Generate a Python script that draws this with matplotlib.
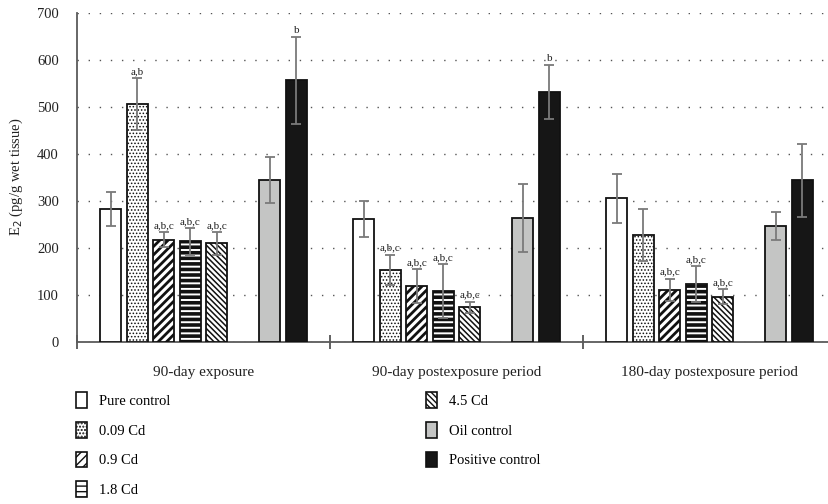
import matplotlib
matplotlib.use("Agg")
import numpy as np
import matplotlib.pyplot as plt
from matplotlib.patches import Patch

plt.rcParams["font.family"] = ["Liberation Serif", "DejaVu Serif"]

# Zeiträume (Gruppen auf der x-Achse)
perioden = ["90-day exposure", "90-day postexposure period", "180-day postexposure period"]

# Gruppen der Tiere
gruppen = ["Pure control", "0.09 Cd", "0.9 Cd", "1.8 Cd", "4.5 Cd", "Oil control", "Positive control"]

# Mittelwerte E2 (pg/g wet tissue) je Gruppe, Reihenfolge wie perioden
pure_control = [283, 262, 306]
cd_009 = [507, 154, 228]
cd_09 = [218, 120, 111]
cd_18 = [214, 109, 123]
cd_45 = [210, 74, 96]
oil_control = [345, 264, 246]
positive_control = [557, 532, 344]

# Standardabweichungen
pure_control_sd = [37, 39, 52]
cd_009_sd = [55, 32, 56]
cd_09_sd = [16, 36, 24]
cd_18_sd = [29, 57, 38]
cd_45_sd = [24, 12, 16]
oil_control_sd = [49, 73, 30]
positive_control_sd = [93, 57, 78]

# Signifikanz-Buchstaben
pure_control_sig = ["", "", ""]
cd_009_sig = ["a,b", "a,b,c", ""]
cd_09_sig = ["a,b,c", "a,b,c", "a,b,c"]
cd_18_sig = ["a,b,c", "a,b,c", "a,b,c"]
cd_45_sig = ["a,b,c", "a,b,c", "a,b,c"]
oil_control_sig = ["", "", ""]
positive_control_sig = ["b", "b", ""]

werte = [pure_control, cd_009, cd_09, cd_18, cd_45, oil_control, positive_control]
sds = [pure_control_sd, cd_009_sd, cd_09_sd, cd_18_sd, cd_45_sd, oil_control_sd, positive_control_sd]
sigs = [pure_control_sig, cd_009_sig, cd_09_sig, cd_18_sig, cd_45_sig, oil_control_sig, positive_control_sig]

# Darstellung: Farbe, Schraffur, Schraffurstärke
stile = [
    ("white", "", 1.0),
    ("white", ".....", 0.7),
    ("white", "////", 2.0),
    ("white", "---", 2.6),
    ("white", "\\\\\\\\\\\\", 1.1),
    ("#c4c5c4", "", 1.0),
    ("#161616", "", 1.0),
]

# Slot-Position innerhalb der Gruppe (ein Slot frei zwischen 4.5 Cd und Oil control)
slot = 0.105
offsets = np.array([-3.5, -2.5, -1.5, -0.5, 0.5, 2.5, 3.5]) * slot
breite = 0.083

fig = plt.figure(figsize=(8.29, 5.04), dpi=100)
ax = fig.add_axes([77 / 829, 1 - 342 / 504, 759 / 829, 329 / 504])

x = np.arange(len(perioden))
for i, name in enumerate(gruppen):
    farbe, hatch, hlw = stile[i]
    plt.rcParams["hatch.linewidth"] = hlw
    bars = ax.bar(x + offsets[i], werte[i], breite, color=farbe, edgecolor="#111111",
                  linewidth=1.3, hatch=hatch, zorder=3)
    for b in bars:
        try:
            b.set_hatch_linewidth(hlw)
        except AttributeError:
            pass
    ax.errorbar(x + offsets[i], werte[i], yerr=sds[i], fmt="none", ecolor="#7a7a7a",
                elinewidth=1.3, capsize=3.5, capthick=1.3, zorder=4)
    for j in range(len(perioden)):
        if sigs[i][j]:
            ax.text(x[j] + offsets[i], werte[i][j] + sds[i][j] + 4, sigs[i][j],
                    ha="center", va="bottom", fontsize=8, color="#222222", zorder=5)

ax.set_xlim(-0.5, 2.5)
ax.set_ylim(0, 700)
ax.set_yticks(range(0, 701, 100))
ax.yaxis.grid(True, linestyle=(0, (1, 7)), linewidth=1.0, color="#555555", zorder=0)
ax.tick_params(axis="y", length=0, pad=13, labelsize=10.5, labelcolor="#222222")

ax.set_xticks(x)
ax.set_xticklabels(perioden)
ax.set_xticks([-0.5, 0.5, 1.5, 2.5], minor=True)
ax.tick_params(axis="x", which="major", length=0, pad=17, labelsize=11, labelcolor="#222222")
ax.tick_params(axis="x", which="minor", length=10, direction="inout", width=1.3, color="#555555")

for s in ["top", "right"]:
    ax.spines[s].set_visible(False)
for s in ["left", "bottom"]:
    ax.spines[s].set_color("#5a5a5a")
    ax.spines[s].set_linewidth(1.3)

fig.text(16 / 829, 1 - 177 / 504, "E$_2$ (pg/g wet tissue)", rotation=90,
         ha="center", va="center", fontsize=10.5, color="#222222")

# Legende in zwei Spalten
handles = []
for i, name in enumerate(gruppen):
    farbe, hatch, hlw = stile[i]
    plt.rcParams["hatch.linewidth"] = hlw
    handles.append(Patch(facecolor=farbe, edgecolor="#111111", linewidth=1.2,
                         hatch=hatch, label=name))

leg_kw = dict(frameon=False, fontsize=10.5, handlelength=0.75, handleheight=1.3,
              handletextpad=0.85, labelspacing=0.95, borderaxespad=0, borderpad=0)
leg1 = fig.legend(handles=handles[:4], loc="upper left",
                  bbox_to_anchor=(76 / 829, 1 - 392 / 504), **leg_kw)
leg2 = fig.legend(handles=handles[4:], loc="upper left",
                  bbox_to_anchor=(426 / 829, 1 - 392 / 504), **leg_kw)

fig.savefig("out.png", dpi=100)
